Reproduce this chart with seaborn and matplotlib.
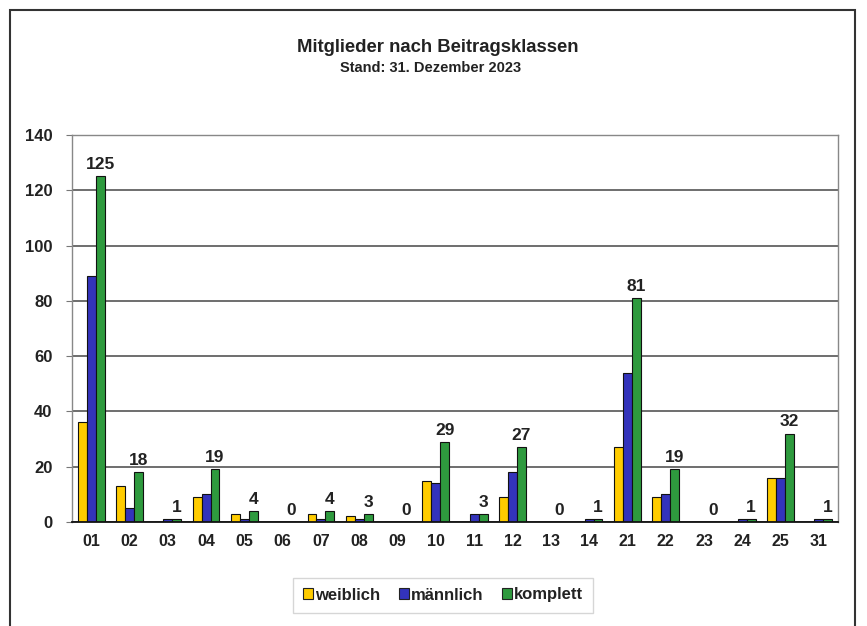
import matplotlib
matplotlib.use("Agg")
import matplotlib.pyplot as plt
from matplotlib.patches import Rectangle, Patch
import seaborn as sns
import pandas as pd

klassen = ["01", "02", "03", "04", "05", "06", "07", "08", "09", "10",
           "11", "12", "13", "14", "21", "22", "23", "24", "25", "31"]
weiblich = [36, 13, 0, 9, 3, 0, 3, 2, 0, 15, 0, 9, 0, 0, 27, 9, 0, 0, 16, 0]
maennlich = [89, 5, 1, 10, 1, 0, 1, 1, 0, 14, 3, 18, 0, 1, 54, 10, 0, 1, 16, 1]
komplett = [125, 18, 1, 19, 4, 0, 4, 3, 0, 29, 3, 27, 0, 1, 81, 19, 0, 1, 32, 1]
serien = ["weiblich", "männlich", "komplett"]
farben = ["#FFCC00", "#3333BB", "#2E9A3E"]

df = pd.DataFrame({
    "klasse": klassen * 3,
    "anzahl": weiblich + maennlich + komplett,
    "serie": [serien[0]] * len(klassen) + [serien[1]] * len(klassen) + [serien[2]] * len(klassen),
})

sns.set_style("white")
plt.rcParams["font.family"] = ["Liberation Sans", "DejaVu Sans"]
plt.rcParams["font.weight"] = "bold"

fig = plt.figure(figsize=(8.67, 6.26), dpi=100)
ax = fig.add_axes([72 / 867, 1 - 522 / 626, (838 - 72) / 867, (522 - 135) / 626])

sns.barplot(data=df, x="klasse", y="anzahl", hue="serie", order=klassen,
            hue_order=serien, palette=farben, width=0.7, edgecolor="#111111",
            linewidth=0.8, ax=ax, legend=False, saturation=1)

# value labels on the "komplett" bars
ax.bar_label(ax.containers[2], labels=[str(v) for v in komplett],
             padding=3, fontsize=12.5, fontweight="bold", color="#222222")

ax.set_ylim(0, 140)
ax.set_xlim(-0.5, len(klassen) - 0.5)
ax.set_yticks(range(0, 141, 20))
ax.yaxis.grid(True, color="#555555", linewidth=1.2)
ax.set_axisbelow(True)
ax.set_xlabel("")
ax.set_ylabel("")
ax.tick_params(axis="y", labelsize=12, length=4, width=0.8, color="#777777", left=True, pad=10)
ax.tick_params(axis="x", labelsize=11.5, length=0, pad=9)
for lab in ax.get_xticklabels() + ax.get_yticklabels():
    lab.set_fontweight("bold")
    lab.set_color("#222222")
for side in ["left", "right", "top"]:
    ax.spines[side].set_color("#888888")
    ax.spines[side].set_linewidth(1.0)
ax.spines["bottom"].set_color("#111111")
ax.spines["bottom"].set_linewidth(1.3)

fig.text(0.505, 1 - 47 / 626, "Mitglieder nach Beitragsklassen",
         ha="center", va="center", fontsize=13.3, fontweight="bold", color="#222222")
fig.text(0.497, 1 - 68 / 626, "Stand: 31. Dezember 2023",
         ha="center", va="center", fontsize=10.5, fontweight="bold", color="#222222")

handles = [Patch(facecolor=c, edgecolor="#222222", linewidth=0.8) for c in farben]
leg = fig.legend(handles, serien, loc="center", bbox_to_anchor=(443 / 867, 1 - 595 / 626),
                 ncol=3, frameon=True, fancybox=False, handlelength=0.6, handleheight=0.6,
                 handletextpad=0.15, columnspacing=1.1, fontsize=12,
                 borderpad=0.6, edgecolor="#cccccc")
for t in leg.get_texts():
    t.set_fontweight("bold")
    t.set_color("#222222")

# outer frame of the figure
fig.patches.append(Rectangle((10 / 867, -0.05), (855 - 10) / 867, 1.05 - 10 / 626,
                             transform=fig.transFigure, fill=False,
                             edgecolor="#333333", linewidth=1.5))

fig.savefig("out.png", dpi=100)
